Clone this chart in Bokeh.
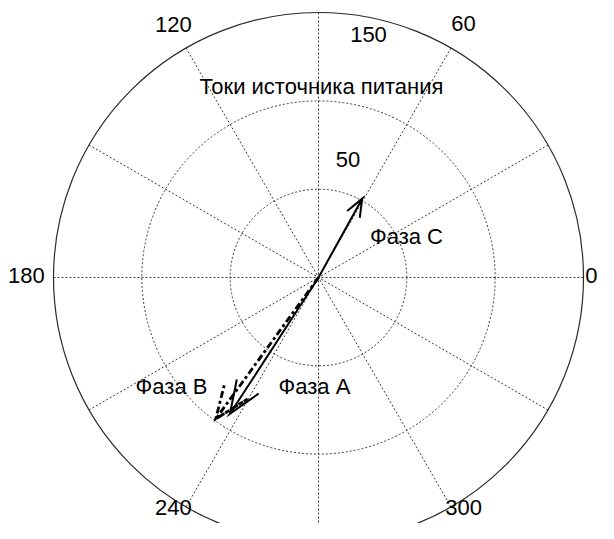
import numpy as np
from bokeh.plotting import figure
from bokeh.models import Range1d
from bokeh.core.properties import value
from bokeh.embed import file_html
from bokeh.resources import INLINE

# ---- data ----
phase_names = ["Фаза A", "Фаза B", "Фаза C"]
phase_mag = [92, 99, 51]          # current magnitude
phase_ang = [237, 234, 61]        # angle, degrees
ring_values = [50, 100, 150]
ring_labels = ["50", "150"]
ring_label_values = [50, 150]
angle_labels = ["0", "60", "120", "180", "240", "300"]
angle_label_values = [0, 60, 120, 180, 240, 300]
spoke_angles = [0, 30, 60, 90, 120, 150]
title_text = "Токи источника питания"

# ---- geometry ----
W, H = 598, 523
S = 265 / 150.0            # px per unit
CX, CY = 318, 277          # centre in canvas px
rmax = max(ring_values)
DY = 4.6                   # baseline correction for text (units)

p = figure(width=W, height=H, output_backend="svg", toolbar_location=None,
           x_range=Range1d(-CX / S, (W - CX) / S),
           y_range=Range1d(-(H - CY) / S, CY / S),
           x_axis_location=None, y_axis_location=None, min_border=0)
p.grid.visible = False
p.outline_line_color = None
p.background_fill_color = "white"

FONT = value("Liberation Sans")
FS = "22px"
GRID = "#3a3a3a"

# spokes
th = np.deg2rad(spoke_angles)
p.segment(x0=-rmax * np.cos(th), y0=-rmax * np.sin(th),
          x1=rmax * np.cos(th), y1=rmax * np.sin(th),
          line_color=GRID, line_width=1, line_dash="2 2")
# inner rings (dotted) and outer circle (solid)
inner = ring_values[:-1]
p.circle(x=[0] * len(inner), y=[0] * len(inner), radius=inner,
         fill_color=None, line_color=GRID, line_width=1, line_dash="2 2")
p.circle(x=[0], y=[0], radius=[rmax], fill_color=None,
         line_color="#2a2a2a", line_width=1.2)

# arrows (compass style)
styles = [dict(line_dash="solid", line_width=2.0),
          dict(line_dash="7 3 3 3", line_width=2.8),
          dict(line_dash="solid", line_width=2.0)]
for m, a, st in zip(phase_mag, phase_ang, styles):
    z = m * np.exp(1j * np.deg2rad(a))
    pts = np.array([0, z, 0.8 * z + 0.08j * z, z, 0.8 * z - 0.08j * z])
    p.line(pts.real, pts.imag, line_color="black", line_join="miter", **st)

def label(x, y, s):
    p.text(x=[x], y=[y + DY], text=[s], text_font=FONT, text_font_size=FS,
           text_color="black", text_align="center", text_baseline="alphabetic")

# angle labels
angle_pos = {0: (154.5, -3.6), 60: (82.1, 139.2), 120: (-82.1, 138.8),
             180: (-165.3, -3.6), 240: (-82.1, -135.0), 300: (82.1, -135.0)}
for lab, ang in zip(angle_labels, angle_label_values):
    label(*angle_pos[ang], lab)

# ring labels
ring_pos = {50: (16.7, 62.3), 150: (28.3, 132.8)}
for lab, rv in zip(ring_labels, ring_label_values):
    label(*ring_pos[rv], lab)

# phase labels
phase_pos = [(-2.3, -66.2), (-83.2, -66.2), (49.8, 18.7)]
for lab, pos in zip(phase_names, phase_pos):
    label(*pos, lab)

# title inside the plot
label(1.7, 103.4, title_text)

open("out.html", "w").write(file_html(p, INLINE))
